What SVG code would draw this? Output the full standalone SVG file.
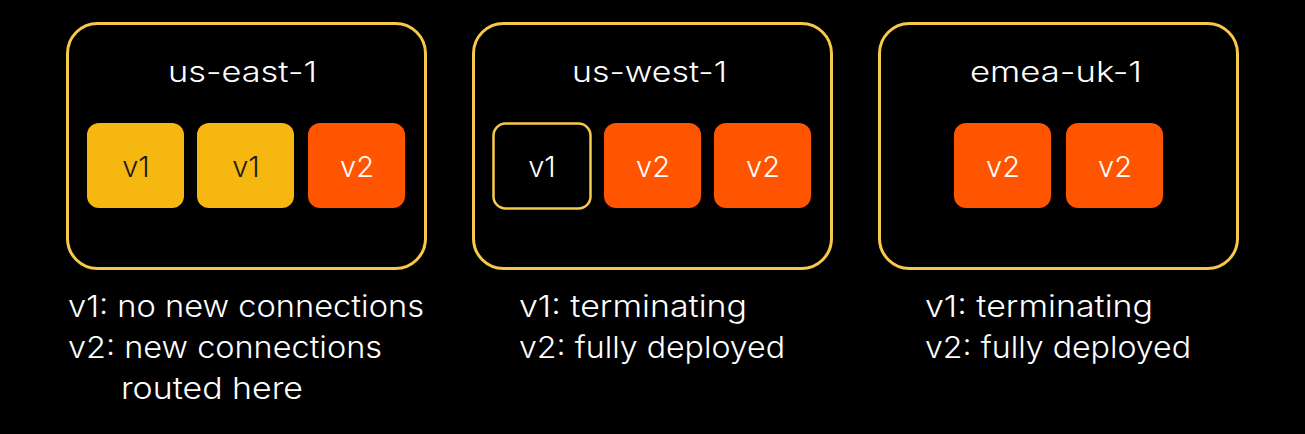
<svg xmlns="http://www.w3.org/2000/svg" width="1305" height="434" viewBox="0 0 1305 434">
<style>
.region{fill:#000;stroke:#F7C948;stroke-width:3}
.pod1{fill:#F5B710}
.pod2{fill:#FF5500}
.podo{fill:#000;stroke:#F7C948;stroke-width:2.5}
text{font-family:Inter,"Noto Sans",sans-serif;font-weight:300}
.title{fill:#fff;font-size:28px}
.pl{font-size:29px;text-anchor:middle}
.dark{fill:#1a1a1a}
.light{fill:#fff}
.note{fill:#fff;font-size:30px}
</style>
<rect width="1305" height="434" fill="#000"/>
<g id="us-east-1">
<rect class="region" x="67.5" y="23.5" width="358" height="245" rx="30"/>
<text class="title" x="168" y="82" textLength="149" lengthAdjust="spacingAndGlyphs">us-east-1</text>
<rect class="pod1" x="87" y="123" width="97" height="85" rx="12"/>
<text class="pl dark" x="136" y="177">v1</text>
<rect class="pod1" x="197" y="123" width="97" height="85" rx="12"/>
<text class="pl dark" x="246" y="177">v1</text>
<rect class="pod2" x="308" y="123" width="97" height="85" rx="12"/>
<text class="pl light" x="357" y="177">v2</text>
</g>
<g id="us-west-1">
<rect class="region" x="473.5" y="23.5" width="358" height="245" rx="30"/>
<text class="title" x="572" y="82" textLength="155" lengthAdjust="spacingAndGlyphs">us-west-1</text>
<rect class="podo" x="493.5" y="123.5" width="97" height="85" rx="12"/>
<text class="pl light" x="542" y="177">v1</text>
<rect class="pod2" x="604" y="123" width="97" height="85" rx="12"/>
<text class="pl light" x="653" y="177">v2</text>
<rect class="pod2" x="714" y="123" width="97" height="85" rx="12"/>
<text class="pl light" x="763" y="177">v2</text>
</g>
<g id="emea-uk-1">
<rect class="region" x="879.5" y="23.5" width="358" height="245" rx="30"/>
<text class="title" x="970" y="82" textLength="172" lengthAdjust="spacingAndGlyphs">emea-uk-1</text>
<rect class="pod2" x="954" y="123" width="97" height="85" rx="12"/>
<text class="pl light" x="1003" y="177">v2</text>
<rect class="pod2" x="1066" y="123" width="97" height="85" rx="12"/>
<text class="pl light" x="1115" y="177">v2</text>
</g>
<g id="notes">
<text class="note" x="68" y="317" textLength="356" lengthAdjust="spacingAndGlyphs">v1: no new connections</text>
<text class="note" x="68" y="358" textLength="314" lengthAdjust="spacingAndGlyphs">v2: new connections</text>
<text class="note" x="121" y="399" textLength="182" lengthAdjust="spacingAndGlyphs">routed here</text>
<text class="note" x="519" y="317" textLength="228" lengthAdjust="spacingAndGlyphs">v1: terminating</text>
<text class="note" x="519" y="358" textLength="266" lengthAdjust="spacingAndGlyphs">v2: fully deployed</text>
<text class="note" x="925" y="317" textLength="228" lengthAdjust="spacingAndGlyphs">v1: terminating</text>
<text class="note" x="925" y="358" textLength="266" lengthAdjust="spacingAndGlyphs">v2: fully deployed</text>
</g>
<g id="connectors"/>
</svg>
